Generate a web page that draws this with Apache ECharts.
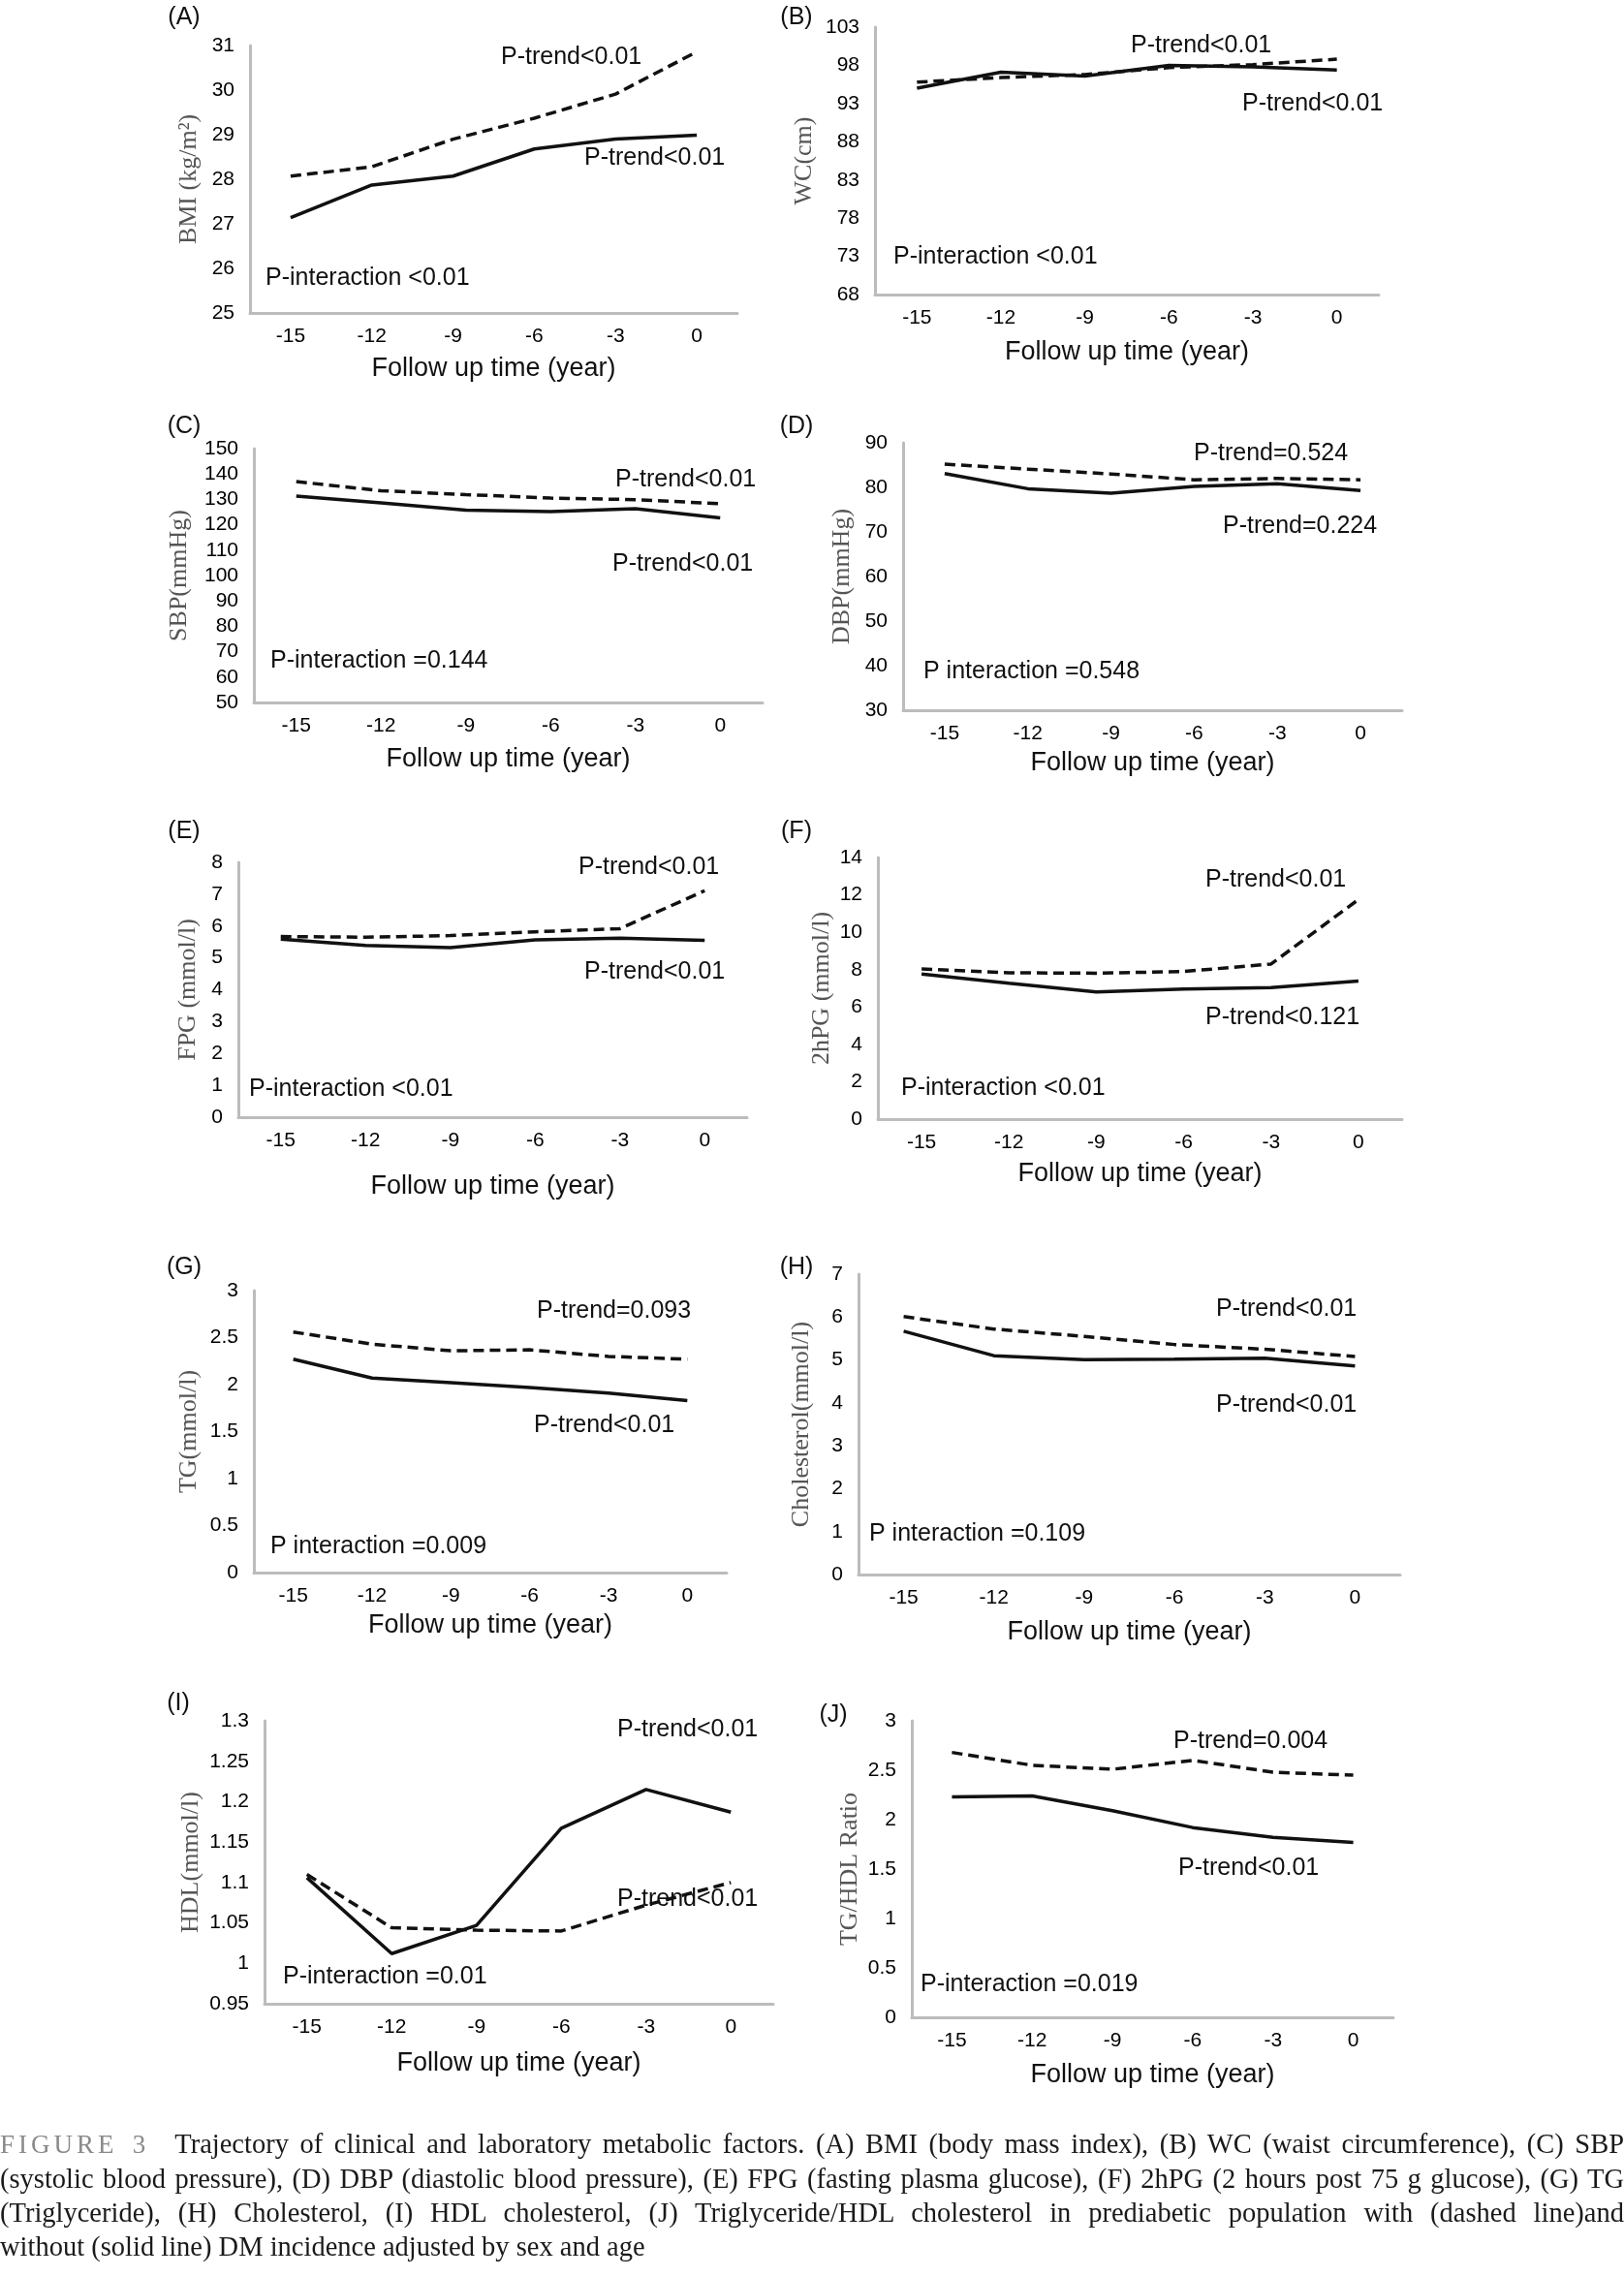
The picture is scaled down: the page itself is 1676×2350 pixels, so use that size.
<!DOCTYPE html>
<html>
<head>
<meta charset="utf-8">
<title>Figure 3</title>
<script src="https://cdn.jsdelivr.net/npm/echarts@6/dist/echarts.min.js"></script>
<style>
  html, body { margin: 0; padding: 0; background: #fff; }
  #chart { position: absolute; left: 0; top: 0; width: 1676px; height: 2350px; }
  #caption { position: absolute; left: 0; top: 2195px; width: 1676px;
    font-family: 'Liberation Serif', 'DejaVu Serif', serif; font-size: 28.5px; line-height: 35px; color: #1a1a1a; }
  #caption .ln { text-align: justify; text-align-last: justify; }
  #caption .last { text-align: left; text-align-last: left; }
  #caption .fig { color: #8a8a8a; letter-spacing: 4px; font-size: 27px; margin-right: 26px; }
</style>
</head>
<body>
<div id="chart"></div>
<div id="caption">
  <div class="ln"><span class="fig">FIGURE 3</span>Trajectory of clinical and laboratory metabolic factors. (A) BMI (body mass index), (B) WC (waist circumference), (C) SBP</div>
  <div class="ln">(systolic blood pressure), (D) DBP (diastolic blood pressure), (E) FPG (fasting plasma glucose), (F) 2hPG (2 hours post 75 g glucose), (G) TG</div>
  <div class="ln">(Triglyceride), (H) Cholesterol, (I) HDL cholesterol, (J) Triglyceride/HDL cholesterol in prediabetic population with (dashed line)and</div>
  <div class="last">without (solid line) DM incidence adjusted by sex and age</div>
</div>
<script>
// follow up years (category axis)
var years = ['-15', '-12', '-9', '-6', '-3', '0'];

// dashed = with DM incidence, solid = without
var bmiDashed = [28.07, 28.28, 28.9, 29.37, 29.91, 30.86];
var bmiSolid = [27.14, 27.87, 28.07, 28.68, 28.9, 28.99];
var bmiTicks = [25, 26, 27, 28, 29, 30, 31];

var wcDashed = [95.8, 96.4, 96.8, 97.7, 98.1, 98.8];
var wcSolid = [95.0, 97.1, 96.6, 98.0, 97.8, 97.4];
var wcTicks = [68, 73, 78, 83, 88, 93, 98, 103];

var sbpDashed = [137, 133.4, 131.9, 130.5, 129.9, 128.3];
var sbpSolid = [131.3, 128.6, 125.8, 125.2, 126.3, 122.7];
var sbpTicks = [50, 60, 70, 80, 90, 100, 110, 120, 130, 140, 150];

var dbpDashed = [85.2, 84.1, 83.0, 81.7, 82.0, 81.7];
var dbpSolid = [83.1, 79.7, 78.7, 80.2, 80.8, 79.3];
var dbpTicks = [30, 40, 50, 60, 70, 80, 90];

var fpgDashed = [5.67, 5.65, 5.7, 5.82, 5.92, 7.11];
var fpgSolid = [5.59, 5.39, 5.32, 5.57, 5.62, 5.55];
var fpgTicks = [0, 1, 2, 3, 4, 5, 6, 7, 8];

var hpgDashed = [8.04, 7.83, 7.81, 7.9, 8.3, 11.75];
var hpgSolid = [7.77, 7.27, 6.8, 6.96, 7.04, 7.39];
var hpgTicks = [0, 2, 4, 6, 8, 10, 12, 14];

var tgDashed = [2.56, 2.43, 2.36, 2.37, 2.3, 2.27];
var tgSolid = [2.27, 2.07, 2.02, 1.97, 1.91, 1.83];
var tgTicks = [0, 0.5, 1, 1.5, 2, 2.5, 3];

var cholDashed = [6.01, 5.72, 5.55, 5.36, 5.25, 5.08];
var cholSolid = [5.67, 5.1, 5.01, 5.02, 5.04, 4.86];
var cholTicks = [0, 1, 2, 3, 4, 5, 6, 7];

var hdlDashed = [1.11, 1.044, 1.041, 1.04, 1.072, 1.1];
var hdlSolid = [1.106, 1.012, 1.047, 1.167, 1.215, 1.187];
var hdlTicks = [0.95, 1, 1.05, 1.1, 1.15, 1.2, 1.25, 1.3];

var ratioDashed = [2.68, 2.55, 2.51, 2.6, 2.48, 2.45];
var ratioSolid = [2.23, 2.24, 2.09, 1.92, 1.82, 1.77];
var ratioTicks = [0, 0.5, 1, 1.5, 2, 2.5, 3];

var sans = "'Liberation Sans', Arial, sans-serif";
var serif = "'Liberation Serif', 'DejaVu Serif', serif";

// one entry per panel: data refs + where it sits on the page
var panels = [
  { tag: '(A)', yName: 'BMI (kg/m²)', dashed: bmiDashed, solid: bmiSolid, ticks: bmiTicks,
    box: [258, 47, 503, 276], tagPos: [190, 18], yGap: 50, xGap: 44,
    notes: [[517, 59, 'P-trend<0.01'], [603, 163, 'P-trend<0.01'], [274, 287, 'P-interaction <0.01']] },
  { tag: '(B)', yName: 'WC(cm)', dashed: wcDashed, solid: wcSolid, ticks: wcTicks,
    box: [903, 28, 520, 276], tagPos: [822, 18], yGap: 60, xGap: 46,
    notes: [[1167, 47, 'P-trend<0.01'], [1282, 107, 'P-trend<0.01'], [922, 265, 'P-interaction <0.01']] },
  { tag: '(C)', yName: 'SBP(mmHg)', dashed: sbpDashed, solid: sbpSolid, ticks: sbpTicks,
    box: [262, 463, 525, 262], tagPos: [190, 440], yGap: 64, xGap: 45,
    notes: [[635, 495, 'P-trend<0.01'], [632, 582, 'P-trend<0.01'], [279, 682, 'P-interaction =0.144']] },
  { tag: '(D)', yName: 'DBP(mmHg)', dashed: dbpDashed, solid: dbpSolid, ticks: dbpTicks,
    box: [932, 457, 515, 276], tagPos: [822, 440], yGap: 50, xGap: 41,
    notes: [[1232, 468, 'P-trend=0.524'], [1262, 543, 'P-trend=0.224'], [953, 693, 'P interaction =0.548']] },
  { tag: '(E)', yName: 'FPG (mmol/l)', dashed: fpgDashed, solid: fpgSolid, ticks: fpgTicks,
    box: [246, 890, 525, 263], tagPos: [190, 858], yGap: 39, xGap: 58,
    notes: [[597, 895, 'P-trend<0.01'], [603, 1003, 'P-trend<0.01'], [257, 1124, 'P-interaction <0.01']] },
  { tag: '(F)', yName: '2hPG (mmol/l)', dashed: hpgDashed, solid: hpgSolid, ticks: hpgTicks,
    box: [906, 885, 541, 270], tagPos: [822, 858], yGap: 45, xGap: 43,
    notes: [[1244, 908, 'P-trend<0.01'], [1244, 1050, 'P-trend<0.121'], [930, 1123, 'P-interaction <0.01']] },
  { tag: '(G)', yName: 'TG(mmol/l)', dashed: tgDashed, solid: tgSolid, ticks: tgTicks,
    box: [262, 1332, 488, 291], tagPos: [190, 1308], yGap: 54, xGap: 41,
    notes: [[554, 1353, 'P-trend=0.093'], [551, 1471, 'P-trend<0.01'], [279, 1596, 'P interaction =0.009']] },
  { tag: '(H)', yName: 'Cholesterol(mmol/l)', dashed: cholDashed, solid: cholSolid, ticks: cholTicks,
    box: [886, 1315, 559, 310], tagPos: [822, 1308], yGap: 46, xGap: 46,
    notes: [[1255, 1351, 'P-trend<0.01'], [1255, 1450, 'P-trend<0.01'], [897, 1583, 'P interaction =0.109']] },
  { tag: '(I)', yName: 'HDL(mmol/l)', dashed: hdlDashed, solid: hdlSolid, ticks: hdlTicks,
    box: [273, 1776, 525, 292], tagPos: [184, 1758], yGap: 63, xGap: 48,
    notes: [[637, 1785, 'P-trend<0.01'], [637, 1960, 'P-trend<0.01'], [292, 2040, 'P-interaction =0.01']] },
  { tag: '(J)', yName: 'TG/HDL Ratio', dashed: ratioDashed, solid: ratioSolid, ticks: ratioTicks,
    box: [941, 1776, 497, 306], tagPos: [860, 1770], yGap: 51, xGap: 46,
    notes: [[1211, 1797, 'P-trend=0.004'], [1216, 1928, 'P-trend<0.01'], [950, 2048, 'P-interaction =0.019']] }
];

var dom = document.getElementById('chart');
var myChart = echarts.init(dom, null, { renderer: 'canvas' });

var grid = [], xAxis = [], yAxis = [], series = [], graphic = [];
var axisGrey = { color: '#bcbcbc', width: 3 };

panels.forEach(function (p, i) {
  grid.push({ left: p.box[0], top: p.box[1], width: p.box[2], height: p.box[3] });
  xAxis.push({
    gridIndex: i, type: 'category', data: years, boundaryGap: true,
    axisLine: { lineStyle: axisGrey }, axisTick: { show: false },
    axisLabel: { margin: 14, fontSize: 21, fontFamily: sans, color: '#000' },
    name: 'Follow up time (year)', nameLocation: 'middle', nameGap: p.xGap,
    nameTextStyle: { fontSize: 27, fontFamily: sans, color: '#111' }
  });
  yAxis.push({
    gridIndex: i, type: 'value', min: p.ticks[0], max: p.ticks[p.ticks.length - 1],
    axisLine: { show: true, lineStyle: axisGrey }, axisTick: { show: false },
    splitLine: { show: false },
    axisLabel: { customValues: p.ticks, margin: 16, fontSize: 21, fontFamily: sans, color: '#000' },
    name: p.yName, nameLocation: 'middle', nameRotate: 90, nameGap: p.yGap,
    nameTextStyle: { fontSize: 26, fontFamily: serif, color: '#555' }
  });
  series.push({
    type: 'line', xAxisIndex: i, yAxisIndex: i, data: p.solid, symbol: 'none',
    lineStyle: { color: '#111', width: 3.5 }
  });
  series.push({
    type: 'line', xAxisIndex: i, yAxisIndex: i, data: p.dashed, symbol: 'none',
    lineStyle: { color: '#111', width: 3.5, type: [11, 6] }
  });
  graphic.push({
    type: 'text', x: p.tagPos[0], y: p.tagPos[1],
    style: { text: p.tag, font: '25px ' + sans, fill: '#111', align: 'center', verticalAlign: 'middle' }
  });
  p.notes.forEach(function (n) {
    graphic.push({
      type: 'text', x: n[0], y: n[1],
      style: { text: n[2], font: '25px ' + sans, fill: '#111', align: 'left', verticalAlign: 'middle' }
    });
  });
});

var option = {
  animation: false,
  backgroundColor: '#fff',
  grid: grid,
  xAxis: xAxis,
  yAxis: yAxis,
  series: series,
  graphic: graphic
};
myChart.setOption(option, true);
</script>
</body>
</html>
